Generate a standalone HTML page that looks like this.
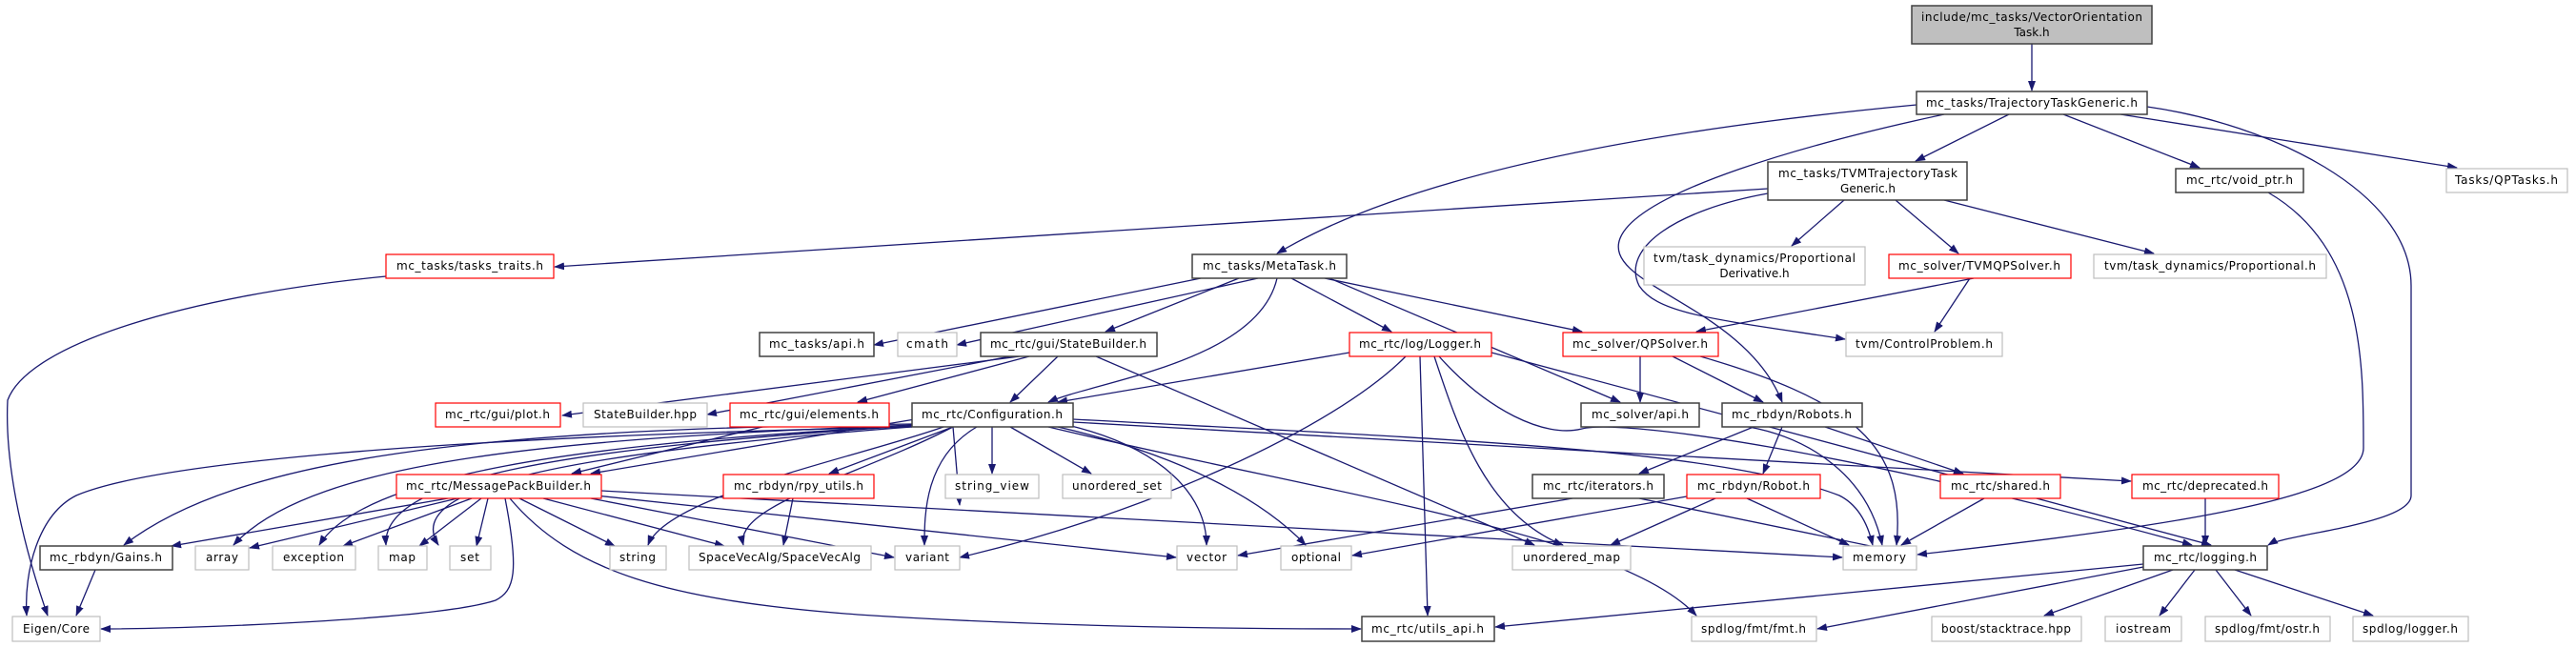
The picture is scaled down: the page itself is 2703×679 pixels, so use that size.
<!DOCTYPE html>
<html><head><meta charset="utf-8"><style>
html,body{margin:0;padding:0;background:#fff;}
svg{display:block;}
text{font-family:"DejaVu Sans","Liberation Sans",sans-serif;font-size:12px;fill:#000;}
.e{fill:none;stroke:#191970;stroke-width:1.3;marker-end:url(#a);}
.n{fill:#fff;stroke:#404040;stroke-width:1.5;}
.r{fill:#fff;stroke:#ff0000;stroke-width:1.2;}
.g{fill:#fff;stroke:#bfbfbf;stroke-width:1.2;}
</style></head><body>
<svg width="2703" height="679" viewBox="0 0 2703 679" xmlns="http://www.w3.org/2000/svg">
<defs><marker id="a" markerWidth="11" markerHeight="8" refX="10" refY="4" orient="auto" markerUnits="userSpaceOnUse"><path d="M0,0 L11,4 L0,8 z" fill="#191970"/></marker></defs>
<g>
<!-- edges -->
<path class="e" d="M2132,46 L2132,95"/>
<path class="e" d="M2108,120 L2010,169"/>
<path class="e" d="M2165,120 L2308,176"/>
<path class="e" d="M2225,120 L2578,176"/>
<path class="e" d="M2011,110 C1800,130 1500,170 1340,266"/>
<path class="e" d="M2040,120 C1900,150 1720,200 1700,250 C1680,300 1830,320 1870,422"/>
<path class="e" d="M2253,112 C2380,130 2530,200 2530,300 L2530,520 C2530,550 2400,560 2380,572"/>
<path class="e" d="M1855,198 L582,280"/>
<path class="e" d="M1855,203 C1760,220 1700,260 1720,300 C1740,330 1800,335 1936,356"/>
<path class="e" d="M1935,210 L1880,258"/>
<path class="e" d="M1989,210 L2055,266"/>
<path class="e" d="M2040,210 L2260,266"/>
<path class="e" d="M2071,292 L1780,348"/>
<path class="e" d="M2067,292 L2030,348"/>
<path class="e" d="M2380,202 C2480,260 2480,380 2480,470 C2480,520 2300,550 2012,582"/>
<path class="e" d="M405,290 C200,310 30,360 8,420 C5,480 20,560 50,646"/>
<path class="e" d="M1260,292 L917,362"/>
<path class="e" d="M1320,292 L1004,362"/>
<path class="e" d="M1300,292 L1160,348"/>
<path class="e" d="M1355,292 L1460,348"/>
<path class="e" d="M1390,292 L1660,348"/>
<path class="e" d="M1395,292 L1700,422"/>
<path class="e" d="M1340,292 C1320,380 1150,400 1100,422"/>
<path class="e" d="M1070,374 L590,436"/>
<path class="e" d="M1060,374 L742,435"/>
<path class="e" d="M1080,374 L900,422"/>
<path class="e" d="M1110,374 L1060,422"/>
<path class="e" d="M1150,374 L1610,572"/>
<path class="e" d="M1416,370 L1110,422"/>
<path class="e" d="M1475,374 C1400,450 1200,540 1007,585"/>
<path class="e" d="M1490,374 L1498,646"/>
<path class="e" d="M1505,374 C1530,450 1560,540 1640,572"/>
<path class="e" d="M1510,374 C1560,430 1620,460 1660,450 C1700,440 1930,470 2300,572"/>
<path class="e" d="M1565,370 L2320,572"/>
<path class="e" d="M1721,374 L1721,422"/>
<path class="e" d="M1755,374 L1850,422"/>
<path class="e" d="M1770,370 C1950,420 2000,470 1990,572"/>
<path class="e" d="M1840,448 L1720,497"/>
<path class="e" d="M1870,448 L1850,497"/>
<path class="e" d="M1915,448 L2060,497"/>
<path class="e" d="M1835,448 C1900,460 1960,500 1975,572"/>
<path class="e" d="M800,448 L600,497"/>
<path class="e" d="M960,440 L620,497"/>
<path class="e" d="M1000,448 L870,497"/>
<path class="e" d="M1041,448 L1041,497"/>
<path class="e" d="M1060,448 L1145,497"/>
<path class="e" d="M1025,448 C970,480 970,540 970,572"/>
<path class="e" d="M1120,446 C1220,470 1266,520 1266,572"/>
<path class="e" d="M1110,448 C1250,480 1330,530 1370,572"/>
<path class="e" d="M1126,443 L2236,505"/>
<path class="e" d="M1126,440 C1500,460 1800,470 1930,520 C1950,530 1960,550 1965,572"/>
<path class="e" d="M1100,448 C1400,520 1700,560 1780,646"/>
<path class="e" d="M957,445 C500,450 250,480 130,572"/>
<path class="e" d="M957,446 C600,460 330,480 245,572"/>
<path class="e" d="M957,447 C600,465 380,500 335,572"/>
<path class="e" d="M957,447 C600,470 400,500 405,572"/>
<path class="e" d="M957,448 C600,475 420,510 460,572"/>
<path class="e" d="M990,448 C900,480 700,520 680,572"/>
<path class="e" d="M1000,448 C900,500 770,530 780,572"/>
<path class="e" d="M957,448 C400,460 150,490 80,520 C40,540 25,600 28,646"/>
<path class="e" d="M1000,448 L1007,530"/>
<path class="e" d="M470,523 L180,573"/>
<path class="e" d="M480,523 L262,575"/>
<path class="e" d="M495,523 L360,573"/>
<path class="e" d="M505,523 L440,573"/>
<path class="e" d="M512,523 L500,573"/>
<path class="e" d="M530,523 C545,600 540,620 520,630 C460,650 200,660 106,660"/>
<path class="e" d="M545,523 L645,573"/>
<path class="e" d="M570,523 L760,573"/>
<path class="e" d="M620,523 L938,585"/>
<path class="e" d="M625,520 L1234,585"/>
<path class="e" d="M631,515 L1933,585"/>
<path class="e" d="M535,523 C600,600 700,630 900,645 C1100,658 1300,660 1428,660"/>
<path class="e" d="M832,523 L822,572"/>
<path class="e" d="M100,598 L80,646"/>
<path class="e" d="M1650,523 L1299,583"/>
<path class="e" d="M1720,523 L2011,583"/>
<path class="e" d="M1770,521 L1419,583"/>
<path class="e" d="M1800,523 L1690,572"/>
<path class="e" d="M1833,523 L1940,572"/>
<path class="e" d="M2082,523 L1995,572"/>
<path class="e" d="M2314,523 L2314,572"/>
<path class="e" d="M2249,592 L1569,658"/>
<path class="e" d="M2249,595 L1907,660"/>
<path class="e" d="M2280,598 L2145,646"/>
<path class="e" d="M2303,598 L2266,646"/>
<path class="e" d="M2325,598 L2362,646"/>
<path class="e" d="M2345,598 L2490,646"/>
</g>
<g>
<!-- nodes -->
<rect x="2006" y="6" width="252" height="40" fill="#bfbfbf" stroke="#404040" stroke-width="1.5"/>
<text x="2132" y="22" text-anchor="middle" textLength="232">include/mc_tasks/VectorOrientation</text>
<text x="2132" y="38" text-anchor="middle">Task.h</text>
<rect class="n" x="2011" y="96" width="242" height="24"/><text x="2132" y="112" text-anchor="middle" textLength="222">mc_tasks/TrajectoryTaskGeneric.h</text>
<rect class="n" x="1855" y="170" width="209" height="40"/><text x="1960" y="186" text-anchor="middle" textLength="188">mc_tasks/TVMTrajectoryTask</text><text x="1960" y="202" text-anchor="middle">Generic.h</text>
<rect class="n" x="2283" y="177" width="134" height="25"/><text x="2350" y="193" text-anchor="middle" textLength="112">mc_rtc/void_ptr.h</text>
<rect class="g" x="2567" y="177" width="127" height="25"/><text x="2630" y="193" text-anchor="middle" textLength="108">Tasks/QPTasks.h</text>
<rect class="g" x="1725" y="259" width="232" height="40"/><text x="1841" y="275" text-anchor="middle" textLength="212">tvm/task_dynamics/Proportional</text><text x="1841" y="291" text-anchor="middle">Derivative.h</text>
<rect class="r" x="1982" y="267" width="191" height="25"/><text x="2077" y="283" text-anchor="middle" textLength="170">mc_solver/TVMQPSolver.h</text>
<rect class="g" x="2197" y="267" width="244" height="25"/><text x="2319" y="283" text-anchor="middle" textLength="222">tvm/task_dynamics/Proportional.h</text>
<rect class="r" x="405" y="267" width="176" height="25"/><text x="493" y="283" text-anchor="middle" textLength="154">mc_tasks/tasks_traits.h</text>
<rect class="n" x="1251" y="267" width="162" height="25"/><text x="1332" y="283" text-anchor="middle" textLength="140">mc_tasks/MetaTask.h</text>
<rect class="n" x="797" y="349" width="120" height="25"/><text x="857" y="365" text-anchor="middle" textLength="100">mc_tasks/api.h</text>
<rect class="g" x="942" y="349" width="62" height="25"/><text x="973" y="365" text-anchor="middle" textLength="44">cmath</text>
<rect class="n" x="1029" y="349" width="185" height="25"/><text x="1121" y="365" text-anchor="middle" textLength="164">mc_rtc/gui/StateBuilder.h</text>
<rect class="r" x="1416" y="349" width="149" height="25"/><text x="1490" y="365" text-anchor="middle" textLength="128">mc_rtc/log/Logger.h</text>
<rect class="r" x="1640" y="349" width="163" height="25"/><text x="1721" y="365" text-anchor="middle" textLength="142">mc_solver/QPSolver.h</text>
<rect class="g" x="1937" y="349" width="164" height="25"/><text x="2019" y="365" text-anchor="middle" textLength="144">tvm/ControlProblem.h</text>
<rect class="r" x="457" y="423" width="131" height="25"/><text x="522" y="439" text-anchor="middle" textLength="110">mc_rtc/gui/plot.h</text>
<rect class="g" x="612" y="423" width="130" height="25"/><text x="677" y="439" text-anchor="middle" textLength="108">StateBuilder.hpp</text>
<rect class="r" x="766" y="423" width="167" height="25"/><text x="849" y="439" text-anchor="middle" textLength="146">mc_rtc/gui/elements.h</text>
<rect class="n" x="957" y="423" width="169" height="25"/><text x="1041" y="439" text-anchor="middle" textLength="148">mc_rtc/Configuration.h</text>
<rect class="n" x="1659" y="423" width="124" height="25"/><text x="1721" y="439" text-anchor="middle" textLength="102">mc_solver/api.h</text>
<rect class="n" x="1807" y="423" width="147" height="25"/><text x="1880" y="439" text-anchor="middle" textLength="126">mc_rbdyn/Robots.h</text>
<rect class="r" x="416" y="498" width="215" height="25"/><text x="523" y="514" text-anchor="middle" textLength="194">mc_rtc/MessagePackBuilder.h</text>
<rect class="r" x="759" y="498" width="158" height="25"/><text x="838" y="514" text-anchor="middle" textLength="136">mc_rbdyn/rpy_utils.h</text>
<rect class="g" x="992" y="498" width="98" height="25"/><text x="1041" y="514" text-anchor="middle" textLength="78">string_view</text>
<rect class="g" x="1115" y="498" width="114" height="25"/><text x="1172" y="514" text-anchor="middle" textLength="94">unordered_set</text>
<rect class="n" x="1608" y="498" width="138" height="25"/><text x="1677" y="514" text-anchor="middle" textLength="116">mc_rtc/iterators.h</text>
<rect class="r" x="1770" y="498" width="140" height="25"/><text x="1840" y="514" text-anchor="middle" textLength="118">mc_rbdyn/Robot.h</text>
<rect class="r" x="2036" y="498" width="126" height="25"/><text x="2099" y="514" text-anchor="middle" textLength="104">mc_rtc/shared.h</text>
<rect class="r" x="2237" y="498" width="154" height="25"/><text x="2314" y="514" text-anchor="middle" textLength="132">mc_rtc/deprecated.h</text>
<rect class="n" x="42" y="573" width="139" height="25"/><text x="111" y="589" text-anchor="middle" textLength="118">mc_rbdyn/Gains.h</text>
<rect class="g" x="205" y="573" width="56" height="25"/><text x="233" y="589" text-anchor="middle" textLength="34">array</text>
<rect class="g" x="286" y="573" width="87" height="25"/><text x="329" y="589" text-anchor="middle" textLength="64">exception</text>
<rect class="g" x="397" y="573" width="51" height="25"/><text x="422" y="589" text-anchor="middle" textLength="28">map</text>
<rect class="g" x="472" y="573" width="43" height="25"/><text x="493" y="589" text-anchor="middle" textLength="20">set</text>
<rect class="g" x="640" y="573" width="59" height="25"/><text x="669" y="589" text-anchor="middle" textLength="38">string</text>
<rect class="g" x="723" y="573" width="191" height="25"/><text x="818" y="589" text-anchor="middle" textLength="170">SpaceVecAlg/SpaceVecAlg</text>
<rect class="g" x="939" y="573" width="68" height="25"/><text x="973" y="589" text-anchor="middle" textLength="46">variant</text>
<rect class="g" x="1235" y="573" width="63" height="25"/><text x="1266" y="589" text-anchor="middle" textLength="42">vector</text>
<rect class="g" x="1344" y="573" width="74" height="25"/><text x="1381" y="589" text-anchor="middle" textLength="52">optional</text>
<rect class="g" x="1587" y="573" width="124" height="25"/><text x="1649" y="589" text-anchor="middle" textLength="102">unordered_map</text>
<rect class="g" x="1934" y="573" width="77" height="25"/><text x="1972" y="589" text-anchor="middle" textLength="56">memory</text>
<rect class="n" x="2249" y="573" width="130" height="25"/><text x="2314" y="589" text-anchor="middle" textLength="108">mc_rtc/logging.h</text>
<rect class="g" x="13" y="647" width="92" height="26"/><text x="59" y="664" text-anchor="middle" textLength="70">Eigen/Core</text>
<rect class="n" x="1429" y="647" width="139" height="26"/><text x="1498" y="664" text-anchor="middle" textLength="118">mc_rtc/utils_api.h</text>
<rect class="g" x="1775" y="647" width="131" height="26"/><text x="1840" y="664" text-anchor="middle" textLength="110">spdlog/fmt/fmt.h</text>
<rect class="g" x="2027" y="647" width="157" height="26"/><text x="2105" y="664" text-anchor="middle" textLength="136">boost/stacktrace.hpp</text>
<rect class="g" x="2209" y="647" width="80" height="26"/><text x="2249" y="664" text-anchor="middle" textLength="58">iostream</text>
<rect class="g" x="2314" y="647" width="131" height="26"/><text x="2379" y="664" text-anchor="middle" textLength="110">spdlog/fmt/ostr.h</text>
<rect class="g" x="2469" y="647" width="121" height="26"/><text x="2529" y="664" text-anchor="middle" textLength="100">spdlog/logger.h</text>
</g>
</svg>
</body></html>
